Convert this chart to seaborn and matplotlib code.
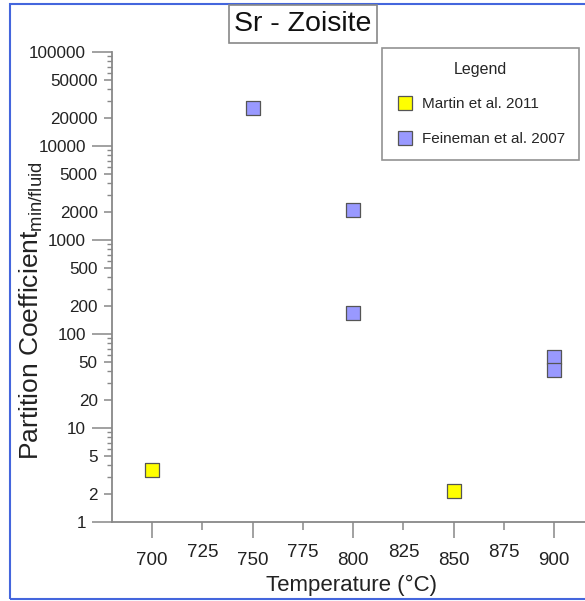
import matplotlib
matplotlib.use('Agg')
import matplotlib.pyplot as plt
import seaborn as sns
import pandas as pd
from matplotlib.ticker import FixedLocator, FixedFormatter, NullFormatter
from matplotlib.patches import Rectangle
from matplotlib.lines import Line2D

# ---- data ----
series = ["Martin et al. 2011", "Feineman et al. 2007"]
colors = ["#ffff00", "#9999ff"]
martin_temp = [700, 850]
martin_kd = [3.6, 2.15]
feineman_temp = [750, 800, 800, 900, 900]
feineman_kd = [25300, 2080, 167, 57, 41.5]
x_ticks = [700, 725, 750, 775, 800, 825, 850, 875, 900]
y_ticks = [1, 2, 5, 10, 20, 50, 100, 200, 500, 1000, 2000, 5000,
           10000, 20000, 50000, 100000]
y_minor = [m * 10 ** e for e in range(0, 5) for m in (3, 4, 6, 7, 8, 9)]

df = pd.DataFrame({
    "temp": martin_temp + feineman_temp,
    "kd": martin_kd + feineman_kd,
    "source": [series[0]] * len(martin_temp) + [series[1]] * len(feineman_temp),
})

sns.set_theme(style="white")
plt.rcParams['font.family'] = ['Liberation Sans', 'DejaVu Sans']
plt.rcParams['mathtext.fontset'] = 'custom'
plt.rcParams['mathtext.rm'] = 'Liberation Sans'
plt.rcParams['mathtext.it'] = 'Liberation Sans:italic'

W, H = 585, 601
fig = plt.figure(figsize=(W / 100, H / 100), dpi=100)
ax = fig.add_axes([112 / W, 79 / H, 473 / W, 470 / H])

sns.scatterplot(data=df, x="temp", y="kd", hue="source",
                palette=dict(zip(series, colors)), marker="s", s=100,
                edgecolor="#555555", linewidth=0.9, ax=ax, legend=False,
                zorder=3, clip_on=False)

ax.set_yscale("log")
ax.set_ylim(1, 1e5)
ax.set_xlim(680, 915.3)

for side in ("top", "right"):
    ax.spines[side].set_visible(False)
for side in ("left", "bottom"):
    ax.spines[side].set_color("#888888")
    ax.spines[side].set_linewidth(1.3)

ax.tick_params(left=True, bottom=True, which="both")

# y ticks
ax.yaxis.set_major_locator(FixedLocator(y_ticks))
ax.yaxis.set_major_formatter(FixedFormatter([str(v) for v in y_ticks]))
ax.yaxis.set_minor_locator(FixedLocator(y_minor))
ax.yaxis.set_minor_formatter(NullFormatter())
ax.tick_params(axis="y", which="major", direction="out", length=5.8, width=1.1,
               color="#888888", labelsize=12.3, labelcolor="#222222", pad=4.5)
ax.tick_params(axis="y", which="minor", direction="out", length=3.3, width=1.0,
               color="#888888")
for t, v in zip(ax.yaxis.get_major_ticks(), y_ticks):
    if v in (1, 10, 100, 1000, 10000, 100000):
        t._apply_params(size=14.4)

# x ticks
ax.xaxis.set_major_locator(FixedLocator(x_ticks))
ax.xaxis.set_major_formatter(FixedFormatter([str(v) for v in x_ticks]))
ax.tick_params(axis="x", which="major", direction="out", length=11.5, width=1.1,
               color="#888888", labelsize=13.5, labelcolor="#222222", pad=10)
for t, v in zip(ax.xaxis.get_major_ticks(), x_ticks):
    if v % 50 != 0:
        t._apply_params(size=5.5)

ax.set_xlabel("Temperature (°C)", fontsize=16, color="#222222")
ax.xaxis.set_label_coords((352 - 112) / 473, -0.134)
ax.xaxis.label.set_va("center")
ax.set_ylabel(r"Partition Coefficient$_{\mathrm{min/fluid}}$", fontsize=19,
              color="#222222")
ax.yaxis.set_label_coords((31 - 112) / 473, 0.45)
ax.yaxis.label.set_va("center")

# legend
handles = [Line2D([], [], marker="s", ls="", ms=10, mfc=c, mec="#555555",
                  mew=0.9) for c in colors]
leg = ax.legend(handles, series, title="Legend", loc="upper right",
                bbox_to_anchor=(579 / W, 1 - 48 / H),
                bbox_transform=fig.transFigure, frameon=True, fancybox=False,
                edgecolor="#777777", fontsize=11, title_fontsize=11.5,
                labelspacing=1.35, borderpad=0.9, handletextpad=0.5,
                handlelength=1.2, borderaxespad=0)
leg.get_frame().set_linewidth(1.2)

# title box
fig.text(303 / W, 1 - 24 / H, "Sr - Zoisite", ha="center", va="center",
         fontsize=20.5, color="#111111",
         bbox=dict(boxstyle="square,pad=0.2", fc="white", ec="#888888", lw=1.2))

# outer blue frame
fig.patches.append(Rectangle((10 / W, 2 / H), 1.0, 1 - 6 / H,
                             transform=fig.transFigure, fill=False,
                             ec="#4466dd", lw=1.5))

fig.savefig("out.png", dpi=100)
